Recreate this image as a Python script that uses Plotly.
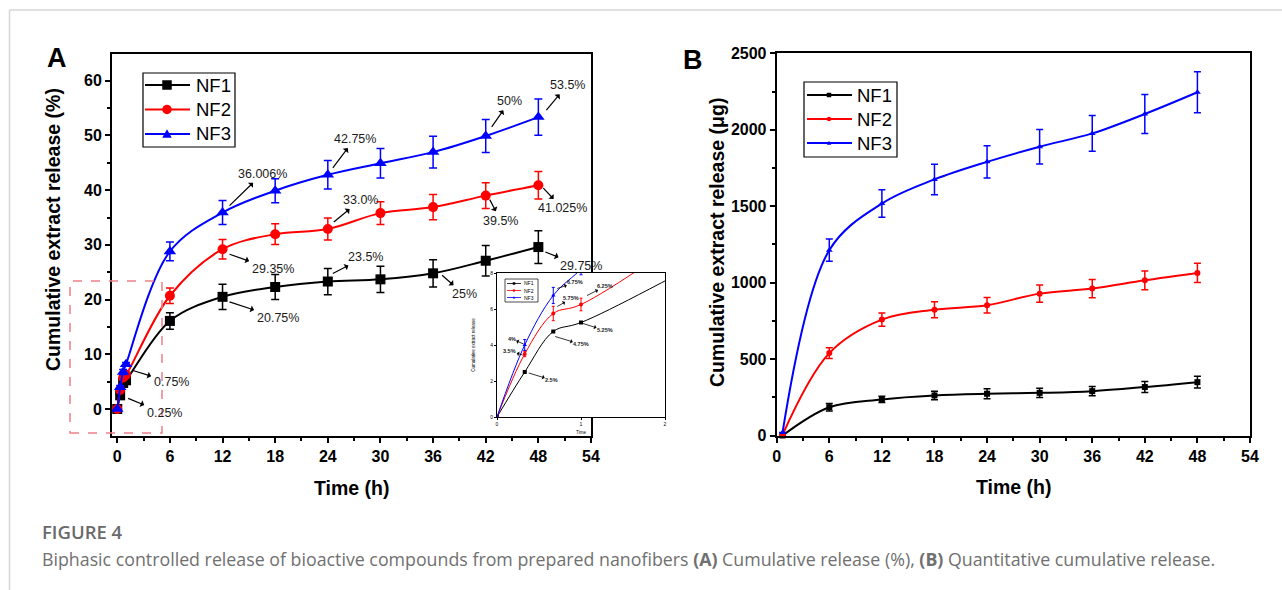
import plotly.graph_objects as go

W, H = 1282, 590

# ---------------- data ----------------
time_a = [0, 0.33, 0.67, 1, 6, 12, 18, 24, 30, 36, 42, 48]
nf1_pct = [0, 2.5, 4.75, 5.25, 16.1, 20.5, 22.3, 23.3, 23.7, 24.8, 27.1, 29.6]
nf2_pct = [0, 3.5, 5.75, 6.25, 20.7, 29.2, 31.95, 32.9, 35.8, 36.9, 39.0, 40.9]
nf3_pct = [0, 4.0, 6.75, 8.2, 28.8, 35.9, 39.9, 42.8, 44.9, 46.95, 49.9, 53.35]
nf1_pct_err = [0, 0, 0, 0, 1.5, 2.3, 2.3, 2.4, 2.4, 2.5, 2.8, 3.0]
nf2_pct_err = [0, 0.15, 0.4, 0.35, 1.4, 1.8, 1.9, 2.0, 2.1, 2.3, 2.35, 2.5]
nf3_pct_err = [0, 0.3, 0.45, 0.3, 1.7, 2.2, 2.2, 2.6, 2.7, 2.9, 3.0, 3.3]

time_b = [0.67, 6, 12, 18, 24, 30, 36, 42, 48]
nf1_ug = [0, 185, 236, 262, 273, 279, 290, 317, 349]
nf2_ug = [5, 539, 758, 823, 852, 928, 961, 1015, 1063]
nf3_ug = [20, 1212, 1517, 1675, 1790, 1889, 1976, 2103, 2245]
nf1_ug_err = [0, 25, 20, 28, 33, 30, 30, 36, 38]
nf2_ug_err = [0, 35, 44, 52, 50, 57, 60, 61, 63]
nf3_ug_err = [0, 73, 90, 100, 106, 113, 117, 127, 134]

series_names = ["NF1", "NF2", "NF3"]
x_ticks = [0, 6, 12, 18, 24, 30, 36, 42, 48, 54]

# labels: (series, index, text)
labels_a = [
    ("NF1", 1, "0.25%"), ("NF1", 3, "0.75%"), ("NF1", 5, "20.75%"),
    ("NF2", 5, "29.35%"), ("NF3", 5, "36.006%"), ("NF3", 7, "42.75%"),
    ("NF2", 7, "33.0%"), ("NF1", 7, "23.5%"), ("NF1", 9, "25%"),
    ("NF2", 10, "39.5%"), ("NF2", 11, "41.025%"), ("NF3", 10, "50%"),
    ("NF3", 11, "53.5%"), ("NF1", 11, "29.75%"),
]
labels_inset = [
    ("NF3", 2, "6.75%"), ("NF2", 2, "5.75%"), ("NF2", 3, "6.25%"),
    ("NF3", 1, "4%"), ("NF2", 1, "3.5%"), ("NF1", 1, "2.5%"),
    ("NF1", 2, "4.75%"), ("NF1", 3, "5.25%"),
]

# ---------------- placement / style (pixels) ----------------
offsets_a = [
    (8, 3, 36, 15), (6, -10, 39, 12), (7, 5, 48, 16),
    (7, 5, 43, 15), (7, -7, 33, -32), (5, -7, 22, -29),
    (6, -7, 27, -22), (5, -8, 33, -17), (9, 2, 22, 19),
    (4, 4, 11, 21), (5, 3, 19, 20), (6, -9, 18, -26),
    (8, -7, 21, -25), (7, 5, 36, 14),
]
offsets_inset = [
    (4, -7, 18, -6), (4, -7, 14, -8), (6, -9, 18, -9),
    (-1, -1, -12, -5), (-2, 1, -13, -4), (4, 1, 23, 7),
    (2, 5, 26, 8), (2, 1, 22, 7),
]

colors = {"NF1": "#000000", "NF2": "#ff0000", "NF3": "#0000ff"}
symbols = {"NF1": "square", "NF2": "circle", "NF3": "triangle-up"}
FONT = "Liberation Sans, Arial, sans-serif"


def px(x):
    return x / W


def py(y):
    return 1 - y / H


pct = {"NF1": (nf1_pct, nf1_pct_err), "NF2": (nf2_pct, nf2_pct_err), "NF3": (nf3_pct, nf3_pct_err)}
ug = {"NF1": (nf1_ug, nf1_ug_err), "NF2": (nf2_ug, nf2_ug_err), "NF3": (nf3_ug, nf3_ug_err)}

fig = go.Figure()

for name in series_names:
    vals, err = pct[name]
    c = colors[name]
    fig.add_trace(go.Scatter(
        x=time_a, y=vals, name=name, mode="lines+markers", xaxis="x", yaxis="y",
        showlegend=False,
        line=dict(color=c, width=2, shape="spline", smoothing=1.0),
        marker=dict(symbol=symbols[name], size=10 if name != "NF3" else 11, color=c),
        error_y=dict(type="data", array=err, color=c, thickness=1.5, width=4),
        cliponaxis=False,
    ))

for name in series_names:
    vals, err = ug[name]
    c = colors[name]
    fig.add_trace(go.Scatter(
        x=time_b, y=vals, name=name, mode="lines+markers", xaxis="x2", yaxis="y2",
        showlegend=False,
        line=dict(color=c, width=2, shape="spline", smoothing=1.0),
        marker=dict(symbol=symbols[name], size=6, color=c),
        error_y=dict(type="data", array=err, color=c, thickness=1.5, width=3.5),
        cliponaxis=False,
    ))

for name in series_names:
    vals, err = pct[name]
    c = colors[name]
    fig.add_trace(go.Scatter(
        x=time_a, y=vals, name=name, mode="lines+markers", xaxis="x3", yaxis="y3",
        showlegend=False,
        line=dict(color=c, width=1, shape="spline", smoothing=1.0),
        marker=dict(symbol=symbols[name], size=4, color=c),
        error_y=dict(type="data", array=err, color=c, thickness=1, width=1.5),
    ))

minor_style = dict(ticks="outside", ticklen=3, tickwidth=1.5, tickcolor="black")
axis_common = dict(
    showline=True, linecolor="black", linewidth=2, mirror=True,
    ticks="outside", ticklen=5, tickwidth=1.5, tickcolor="black",
    showgrid=False, zeroline=False, automargin=False,
    tickfont=dict(family=FONT, size=16, color="black", weight="bold"),
)
inset_axis = dict(
    showline=True, linecolor="black", linewidth=1, mirror=True,
    ticks="outside", ticklen=2, tickwidth=0.8, tickcolor="black",
    showgrid=False, zeroline=False, automargin=False,
    tickfont=dict(family=FONT, size=5, color="black"),
)

fig.update_layout(
    template="none",
    width=W, height=H, margin=dict(l=0, r=0, t=0, b=0, pad=0),
    paper_bgcolor="white", plot_bgcolor="white", showlegend=False,
    font=dict(family=FONT, color="black"),
    xaxis=dict(axis_common, anchor="y", domain=[px(112), px(591)], range=[-0.6, 54],
               tickvals=x_ticks, minor=dict(minor_style, dtick=3, tick0=0)),
    yaxis=dict(axis_common, anchor="x", domain=[py(436), py(53.5)], range=[-4.93, 64.97],
               dtick=10, tick0=0, minor=dict(minor_style, dtick=5, tick0=0)),
    xaxis2=dict(axis_common, anchor="y2", domain=[px(776.7), px(1250)], range=[0, 54],
                tickvals=x_ticks, minor=dict(minor_style, dtick=3, tick0=0)),
    yaxis2=dict(axis_common, anchor="x2", domain=[py(435.5), py(53.3)], range=[0, 2500],
                dtick=500, tick0=0, minor=dict(minor_style, dtick=250, tick0=0)),
    xaxis3=dict(inset_axis, anchor="y3", domain=[px(497), px(665)], range=[0, 2], dtick=1,
                title=dict(text="Time", font=dict(family=FONT, size=4.5), standoff=4)),
    yaxis3=dict(inset_axis, anchor="x3", domain=[py(417), py(273)], range=[0, 8], dtick=2,
                title=dict(text="Cumulative extract release", font=dict(family=FONT, size=4.5), standoff=14)),
)

shapes = []
annotations = []

# inset white background (covers the main plot beneath)
shapes.append(dict(type="rect", xref="x3", yref="y3", x0=0, x1=2, y0=0, y1=8,
                   fillcolor="white", line=dict(width=0), layer="below"))
# red dashed zoom box
shapes.append(dict(type="rect", xref="paper", yref="paper", x0=px(70), x1=px(162), y0=py(433), y1=py(281),
                   line=dict(color="#f07f8a", width=1.5, dash="dash"), layer="above"))
# page border lines
shapes.append(dict(type="line", xref="paper", yref="paper", x0=px(9.5), x1=1, y0=py(10), y1=py(10),
                   line=dict(color="#d6d6d6", width=1.5)))
shapes.append(dict(type="line", xref="paper", yref="paper", x0=px(9.5), x1=px(9.5), y0=py(10), y1=0,
                   line=dict(color="#d6d6d6", width=1.5)))


def marker_shape(name, cx, cy, s):
    c = colors[name]
    h = s / 2
    if name == "NF1":
        return dict(type="rect", xref="paper", yref="paper", x0=px(cx - h), x1=px(cx + h),
                    y0=py(cy + h), y1=py(cy - h), fillcolor=c, line=dict(width=0), layer="above")
    if name == "NF2":
        return dict(type="circle", xref="paper", yref="paper", x0=px(cx - h), x1=px(cx + h),
                    y0=py(cy + h), y1=py(cy - h), fillcolor=c, line=dict(width=0), layer="above")
    path = "M {:.5f} {:.5f} L {:.5f} {:.5f} L {:.5f} {:.5f} Z".format(
        px(cx - h), py(cy + h * 0.8), px(cx + h), py(cy + h * 0.8), px(cx), py(cy - h))
    return dict(type="path", xref="paper", yref="paper", path=path, fillcolor=c, line=dict(width=0), layer="above")


def draw_legend(box, rows, line_x, mark_x, mark_size, text_x, font_size, line_w, box_w):
    x0, x1, y0, y1 = box
    shapes.append(dict(type="rect", xref="paper", yref="paper", x0=px(x0), x1=px(x1), y0=py(y1), y1=py(y0),
                       line=dict(color="black", width=box_w), fillcolor="white", layer="above"))
    for name, ry in zip(series_names, rows):
        shapes.append(dict(type="line", xref="paper", yref="paper", x0=px(line_x[0]), x1=px(line_x[1]),
                           y0=py(ry), y1=py(ry), line=dict(color=colors[name], width=line_w), layer="above"))
        shapes.append(marker_shape(name, mark_x, ry, mark_size))
        annotations.append(dict(xref="paper", yref="paper", x=px(text_x), y=py(ry), text=name,
                                showarrow=False, font=dict(family=FONT, size=font_size, color="black"),
                                xanchor="left", yanchor="middle", xshift=-1))


# legends (manual)
draw_legend((143, 235, 73, 147), [85, 109.5, 134], (145, 190), 167, 9.5, 195, 18.5, 2, 1.2)
draw_legend((804, 897, 82, 157), [95, 119, 143], (807, 852), 829, 4.5, 856, 18.5, 2, 1.2)
draw_legend((505, 538, 279, 302), [283.5, 290.5, 297.5], (507, 521), 514, 2.5, 523, 5, 0.8, 0.7)

# data labels on panel A
for (name, idx, txt), (sx, sy, ax, ay) in zip(labels_a, offsets_a):
    vals = pct[name][0]
    annotations.append(dict(
        x=time_a[idx], y=vals[idx], xref="x", yref="y", text=txt,
        xshift=sx, yshift=-sy, ax=ax, ay=ay, axref="pixel", ayref="pixel",
        showarrow=True, arrowside="start", arrowhead=2, arrowsize=1, arrowwidth=1.2,
        arrowcolor="black", startstandoff=1,
        font=dict(family=FONT, size=12.5, color="#1a1a1a"),
    ))

# data labels on inset
for (name, idx, txt), (sx, sy, ax, ay) in zip(labels_inset, offsets_inset):
    vals = pct[name][0]
    annotations.append(dict(
        x=time_a[idx], y=vals[idx], xref="x3", yref="y3", text=txt,
        xshift=sx, yshift=-sy, ax=ax, ay=ay, axref="pixel", ayref="pixel",
        showarrow=True, arrowside="start", arrowhead=2, arrowsize=0.5, arrowwidth=0.8,
        arrowcolor="black", startstandoff=0, borderpad=0,
        font=dict(family=FONT, size=5.5, color="#1a1a1a", weight="bold"),
    ))

title_font = dict(family=FONT, size=19.5, color="black", weight="bold")
annotations += [
    dict(xref="paper", yref="paper", x=px(53), y=py(230), text="Cumulative extract release (%)",
         textangle=-90, showarrow=False, font=title_font, xanchor="center", yanchor="middle"),
    dict(xref="paper", yref="paper", x=px(717), y=py(243), text="Cumulative extract release (μg)",
         textangle=-90, showarrow=False, font=title_font, xanchor="center", yanchor="middle"),
    dict(xref="paper", yref="paper", x=px(351.5), y=py(488), text="Time (h)",
         showarrow=False, font=title_font, xanchor="center", yanchor="middle"),
    dict(xref="paper", yref="paper", x=px(1013), y=py(487), text="Time (h)",
         showarrow=False, font=title_font, xanchor="center", yanchor="middle"),
    dict(xref="paper", yref="paper", x=px(57), y=py(58), text="A",
         showarrow=False, font=dict(family=FONT, size=27, color="black", weight="bold"),
         xanchor="center", yanchor="middle"),
    dict(xref="paper", yref="paper", x=px(693), y=py(60), text="B",
         showarrow=False, font=dict(family=FONT, size=27, color="black", weight="bold"),
         xanchor="center", yanchor="middle"),
    dict(xref="paper", yref="paper", x=px(40), y=py(531), text="FIGURE 4",
         showarrow=False, font=dict(family="Open Sans", size=18.5, color="#6a6a6a", weight=600),
         xanchor="left", yanchor="middle"),
    dict(xref="paper", yref="paper", x=px(40), y=py(559),
         text="Biphasic controlled release of bioactive compounds from prepared nanofibers <b>(A)</b> "
              "Cumulative release (%), <b>(B)</b> Quantitative cumulative release.",
         showarrow=False, font=dict(family="Open Sans", size=17.8, color="#707070"),
         xanchor="left", yanchor="middle"),
]

fig.update_layout(shapes=shapes, annotations=annotations)
fig.write_html("out.html", config={"displayModeBar": False},
               post_script="document.body.style.margin='0';document.body.style.padding='0';")
